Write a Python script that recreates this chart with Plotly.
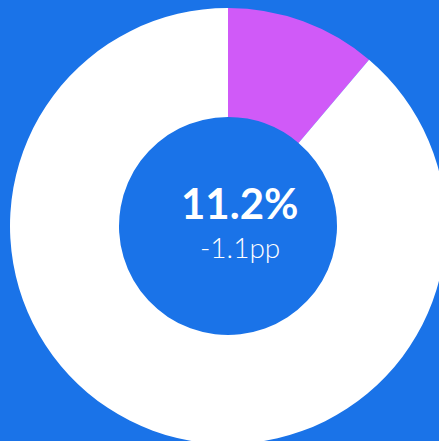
import plotly.graph_objects as go

labels = ["Share", "Rest"]
values = [11.2, 88.8]
colors = ["#D05AF8", "#FFFFFF"]
main_label = "11.2%"
sub_label = "-1.1pp"
bg = "#1A73E8"

fig = go.Figure(
    go.Pie(
        labels=labels,
        values=values,
        hole=0.5,
        sort=False,
        direction="clockwise",
        rotation=0,
        marker=dict(colors=colors, line=dict(width=0)),
        textinfo="none",
        hoverinfo="label+value",
        showlegend=False,
        domain=dict(x=[10 / 456, 446 / 456], y=[8 / 452, 444 / 452]),
    )
)

fig.add_annotation(
    x=0.5261, y=0.5511, xref="paper", yref="paper",
    text="<b>" + main_label + "</b>", showarrow=False,
    font=dict(family="Century Gothic, Lato, sans-serif", size=42, color="#FFFFFF"),
)
fig.add_annotation(
    x=0.5261, y=0.4538, xref="paper", yref="paper",
    text=sub_label, showarrow=False,
    font=dict(family="Century Gothic, Lato, sans-serif", size=28, color="#FFFFFF", weight=300),
)

fig.update_layout(
    width=456,
    height=452,
    margin=dict(l=0, r=0, t=0, b=0),
    paper_bgcolor=bg,
    plot_bgcolor=bg,
)

post = (
    "document.documentElement.style.background='" + bg + "';"
    "document.body.style.background='" + bg + "';"
    "document.body.style.margin='0';"
    "document.documentElement.style.overflow='hidden';"
)

fig.write_html("out.html", post_script=post, config={"displayModeBar": False})
